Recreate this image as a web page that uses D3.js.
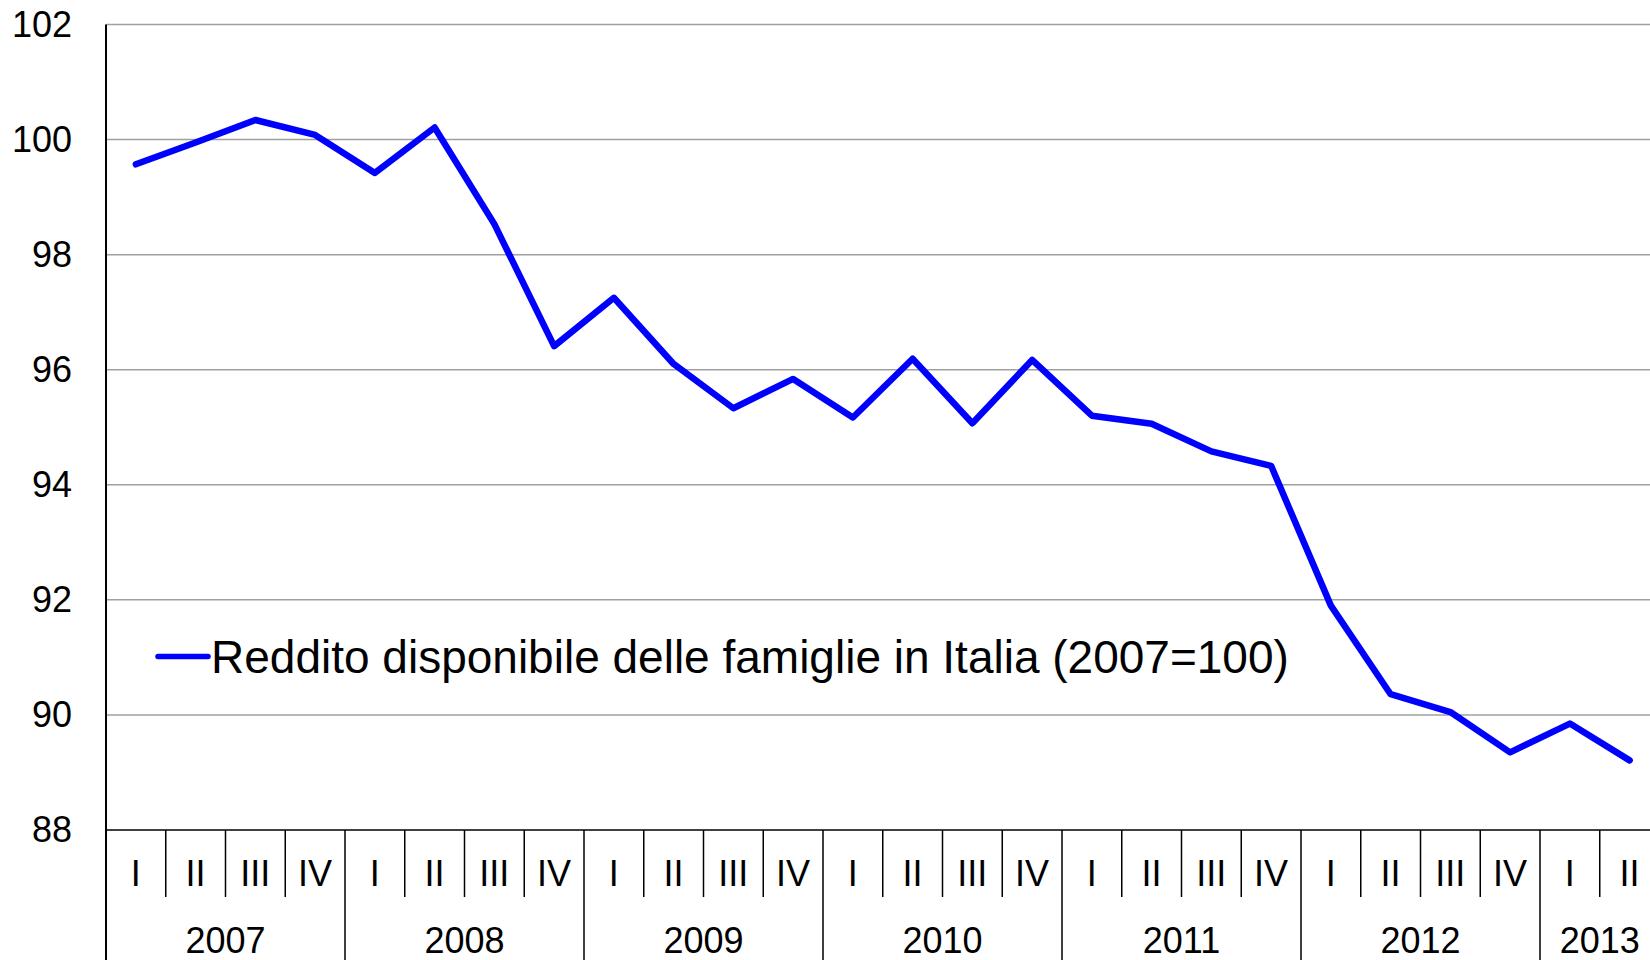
<!DOCTYPE html>
<html>
<head>
<meta charset="utf-8">
<script src="https://cdn.jsdelivr.net/npm/d3@7"></script>
<style>
  body { margin: 0; background: #fff; }
  svg { display: block; font-family: "Liberation Sans", Arial, sans-serif; }
</style>
</head>
<body>
<svg id="chart" width="1650" height="960"></svg>
<script>
// Data
const years = ["2007", "2008", "2009", "2010", "2011", "2012", "2013"];
const quartersPerYear = [4, 4, 4, 4, 4, 4, 2];
const quarterNames = ["I", "II", "III", "IV"];
const values = [99.57, 99.95, 100.34, 100.08, 99.42, 100.21, 98.53, 96.41,
  97.25, 96.10, 95.33, 95.84, 95.17, 96.19, 95.07, 96.17,
  95.20, 95.06, 94.58, 94.33, 91.90, 90.36, 90.05, 89.35,
  89.85, 89.21];
const yTicks = [88, 90, 92, 94, 96, 98, 100, 102];
const seriesName = "Reddito disponibile delle famiglie in Italia (2007=100)";

// flat list of periods (year + quarter)
const periods = [];
years.forEach((yr, yi) => {
  for (let q = 0; q < quartersPerYear[yi]; q++) {
    periods.push({ year: yr, quarter: quarterNames[q], first: q === 0 });
  }
});

const svg = d3.select("#chart");
const plotLeft = 106, plotTop = 24.5, plotBottom = 830;
const qWidth = 59.75;

const x = d3.scaleBand()
  .domain(d3.range(periods.length))
  .range([plotLeft, plotLeft + qWidth * periods.length])
  .padding(0);

const y = d3.scaleLinear()
  .domain([88, 102])
  .range([plotBottom, plotTop]);

// gridlines
svg.append("g")
  .selectAll("line")
  .data(yTicks.filter(d => d > 88))
  .join("line")
  .attr("x1", plotLeft).attr("x2", 1650)
  .attr("y1", d => y(d)).attr("y2", d => y(d))
  .attr("stroke", "#a0a0a0")
  .attr("stroke-width", 1.5);

// y axis labels
const yAxis = svg.append("g")
  .attr("transform", `translate(${plotLeft},0)`)
  .call(d3.axisLeft(y).tickValues(yTicks).tickSize(0).tickPadding(34));
yAxis.select(".domain").remove();
yAxis.selectAll("text")
  .attr("font-size", 36)
  .attr("font-family", "'Liberation Sans', Arial, sans-serif")
  .attr("fill", "#000");

// category axis: quarter dividers
svg.append("g")
  .selectAll("line")
  .data(periods.map((p, i) => i).filter(i => !periods[i].first))
  .join("line")
  .attr("x1", i => x(i)).attr("x2", i => x(i))
  .attr("y1", plotBottom).attr("y2", 897)
  .attr("stroke", "#000")
  .attr("stroke-width", 1.5);

// year dividers
svg.append("g")
  .selectAll("line")
  .data(periods.map((p, i) => i).filter(i => periods[i].first))
  .join("line")
  .attr("x1", i => x(i)).attr("x2", i => x(i))
  .attr("y1", plotBottom).attr("y2", 960)
  .attr("stroke", "#000")
  .attr("stroke-width", 1.5);

// quarter labels
svg.append("g")
  .selectAll("text")
  .data(periods)
  .join("text")
  .attr("x", (d, i) => x(i) + x.bandwidth() / 2)
  .attr("y", 886)
  .attr("text-anchor", "middle")
  .attr("font-size", 36)
  .text(d => d.quarter);

// year labels
const yearStarts = [];
let idx = 0;
years.forEach((yr, yi) => {
  yearStarts.push({ year: yr, start: idx, count: quartersPerYear[yi] });
  idx += quartersPerYear[yi];
});
svg.append("g")
  .selectAll("text")
  .data(yearStarts)
  .join("text")
  .attr("x", d => x(d.start) + x.bandwidth() * d.count / 2)
  .attr("y", 953)
  .attr("text-anchor", "middle")
  .attr("font-size", 36)
  .text(d => d.year);

// axes lines
svg.append("line")
  .attr("x1", plotLeft).attr("x2", 1650)
  .attr("y1", plotBottom).attr("y2", plotBottom)
  .attr("stroke", "#000").attr("stroke-width", 1.5);
svg.append("line")
  .attr("x1", plotLeft).attr("x2", plotLeft)
  .attr("y1", plotTop).attr("y2", 960)
  .attr("stroke", "#000").attr("stroke-width", 2);

// series line
const line = d3.line()
  .x((d, i) => x(i) + x.bandwidth() / 2)
  .y(d => y(d));

svg.append("path")
  .datum(values)
  .attr("d", line)
  .attr("fill", "none")
  .attr("stroke", "#0000ff")
  .attr("stroke-width", 6.5)
  .attr("stroke-linejoin", "round")
  .attr("stroke-linecap", "round");

// legend
const legend = svg.append("g");
legend.append("line")
  .attr("x1", 158).attr("x2", 208)
  .attr("y1", 656.5).attr("y2", 656.5)
  .attr("stroke", "#0000ff")
  .attr("stroke-width", 5.5)
  .attr("stroke-linecap", "round");
legend.append("text")
  .attr("x", 211)
  .attr("y", 673)
  .attr("font-size", 46)
  .text(seriesName);
</script>
</body>
</html>
